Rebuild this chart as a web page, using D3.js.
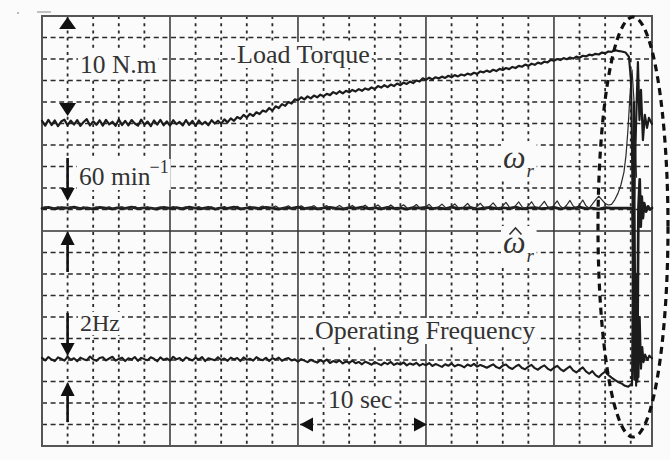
<!DOCTYPE html>
<html>
<head>
<meta charset="utf-8">
<script src="https://cdn.jsdelivr.net/npm/d3@7"></script>
<style>
  body { margin: 0; background: #fbfbfb; }
  svg { display: block; }
  text { font-family: "Liberation Serif", "Times New Roman", serif; fill: #333; }
</style>
</head>
<body>
<svg id="scope" width="670" height="460"></svg>
<script>
// screen: 10 s per major division, traces in minor divisions (0 = bottom, 20 = top)
const T_END = 47.66;
const DT = 0.25;      // sample step of torque / speed / frequency records
const DT_EST = 0.5;   // sample step of the estimated speed record

// load torque, one value every DT seconds (t = 0 .. 45 s)
const torqueDiv = [
  15.12, 14.90, 15.17, 14.93, 15.14, 14.88, 15.09, 15.18, 14.92, 15.13, 14.95, 15.16, 14.89, 15.07, 15.20, 14.91, 15.10, 14.94, 15.15, 14.90,
  15.17, 14.96, 15.08, 14.89, 15.19, 14.93, 15.12, 14.91, 15.16, 15.00, 14.90, 15.18, 14.94, 15.09, 14.88, 15.14, 14.95, 15.17, 14.92, 15.10,
  14.90, 15.15, 14.97, 15.07, 14.91, 15.16, 14.94, 15.12, 14.89, 15.14, 14.96, 15.08, 14.92, 15.15, 15.00,
  15.13, 14.99, 15.19, 15.05, 15.24, 15.12, 15.30, 15.22,
  15.40, 15.28, 15.45, 15.35, 15.52, 15.44, 15.60, 15.55,
  15.72, 15.60, 15.80, 15.72, 15.90, 15.82, 16.00, 15.93, 16.12, 16.08,
  16.22, 16.12, 16.26, 16.17, 16.30, 16.22, 16.34, 16.27, 16.38, 16.32, 16.46, 16.38,
  16.50, 16.40, 16.52, 16.45, 16.56, 16.49, 16.60, 16.52, 16.63, 16.57, 16.68, 16.61, 16.74, 16.67,
  16.78, 16.69, 16.81, 16.74, 16.86, 16.78, 16.90, 16.84, 16.95, 16.88, 17.00, 16.95, 17.10, 17.03,
  17.13, 17.05, 17.15, 17.09, 17.18, 17.12, 17.22, 17.15, 17.25, 17.19, 17.28, 17.23, 17.32, 17.27, 17.36, 17.31, 17.42,
  17.38, 17.46, 17.40, 17.50, 17.44, 17.54, 17.49, 17.58, 17.53, 17.63, 17.58, 17.68,
  17.64, 17.74, 17.68, 17.78, 17.73, 17.83, 17.78, 17.88, 17.84, 17.96, 17.92,
  18.00, 17.95, 18.04, 17.99, 18.07, 18.02, 18.11, 18.06, 18.15, 18.12, 18.20,
  18.17, 18.24, 18.21, 18.30, 18.27, 18.35, 18.33, 18.42, 18.38
];
// torque after the stall: [t, div]
const torqueTail = [
  [45.3, 18.35], [45.6, 18.30], [45.86, 18.10], [46.02, 17.0], [46.1, 13.77], [46.17, 10.05],
  [46.25, 11.44], [46.4, 14.7], [46.56, 17.86], [46.68, 15.16], [46.8, 16.56], [46.95, 14.23],
  [47.1, 15.4], [47.27, 14.8], [47.42, 15.26], [47.66, 14.98]
];

// actual rotor speed (thin trace), every DT seconds
const speedDiv = [
  11.08, 11.12, 11.07, 11.03, 11.08, 11.13, 11.06, 11.02, 11.09, 11.12, 11.06, 11.03, 11.08, 11.13, 11.07, 11.02, 11.08, 11.12, 11.06, 11.03,
  11.09, 11.13, 11.07, 11.02, 11.08, 11.12, 11.06, 11.03, 11.09, 11.14, 11.07, 11.02, 11.08, 11.13, 11.06, 11.03, 11.09, 11.12, 11.07, 11.02,
  11.08, 11.14, 11.07, 11.02, 11.09, 11.13, 11.06, 11.03, 11.08, 11.14, 11.07, 11.02, 11.09, 11.13, 11.06, 11.02, 11.08, 11.14, 11.07, 11.03,
  11.09, 11.15, 11.07, 11.02, 11.09, 11.15, 11.06, 11.02, 11.10, 11.16, 11.07, 11.02, 11.09, 11.16, 11.07, 11.02, 11.10, 11.17, 11.07, 11.02,
  11.10, 11.17, 11.08, 11.02, 11.10, 11.18, 11.07, 11.02, 11.11, 11.18, 11.08, 11.02, 11.10, 11.19, 11.08, 11.02, 11.11, 11.19, 11.07, 11.02,
  11.11, 11.20, 11.08, 11.02, 11.12, 11.21, 11.08, 11.02, 11.11, 11.21, 11.09, 11.02, 11.12, 11.22, 11.08, 11.02, 11.12, 11.23, 11.09, 11.02,
  11.13, 11.24, 11.09, 11.02, 11.13, 11.25, 11.10, 11.02, 11.14, 11.26, 11.10, 11.02, 11.14, 11.28, 11.11, 11.02, 11.15, 11.29, 11.11, 11.03,
  11.16, 11.31, 11.12, 11.03, 11.17, 11.33, 11.12, 11.03, 11.18, 11.35, 11.13, 11.03, 11.18, 11.36, 11.13, 11.04, 11.19, 11.38, 11.14, 11.04,
  11.20, 11.40, 11.15, 11.05, 11.21, 11.42, 11.16, 11.06, 11.22, 11.44, 11.17, 11.06, 11.25, 11.45, 11.62, 11.45, 11.28, 11.21, 11.24, 11.45, 11.75
];
const speedTail = [
  [45.23, 12.14], [45.47, 12.74], [45.63, 13.53], [45.78, 14.70], [45.94, 16.33],
  [46.1, 17.49], [46.25, 16.09], [46.38, 13.8], [46.45, 12.5]
];

// estimated rotor speed (thick trace), every DT_EST seconds
const speedEstDiv = [
  11.05, 11.10, 11.03, 11.09, 11.06, 11.11, 11.04, 11.08, 11.02, 11.10, 11.06, 11.03, 11.09, 11.05, 11.11, 11.04, 11.08, 11.06, 11.02, 11.10,
  11.05, 11.09, 11.03, 11.11, 11.06, 11.04, 11.10, 11.02, 11.08, 11.05, 11.11, 11.03, 11.07, 11.09, 11.04, 11.10, 11.06, 11.02, 11.08, 11.05,
  11.11, 11.04, 11.09, 11.03, 11.07, 11.10, 11.05, 11.02, 11.09, 11.06, 11.11, 11.04, 11.08, 11.03, 11.10, 11.05, 11.07, 11.02, 11.09, 11.06,
  11.10, 11.04, 11.08, 11.03, 11.11, 11.05, 11.07, 11.09, 11.02, 11.06, 11.10, 11.04, 11.08, 11.05, 11.11, 11.03, 11.07, 11.09, 11.04, 11.06,
  11.10, 11.03, 11.08, 11.05, 11.11, 11.04, 11.07, 11.02, 11.09, 11.06, 11.07
];
const speedEstTail = [
  [45.5, 11.06], [46.0, 11.07], [46.15, 11.05], [46.22, 5.0], [46.3, 3.1], [46.4, 8.0], [46.5, 3.0],
  [46.6, 11.07], [46.7, 12.4], [46.78, 10.2], [46.86, 11.6], [46.95, 10.6], [47.05, 11.3],
  [47.2, 10.9], [47.35, 11.15], [47.5, 11.0], [47.66, 11.07]
];

// inverter operating frequency, every DT seconds
const freqDiv = [
  4.10, 3.98, 4.14, 4.02, 3.95, 4.12, 4.06, 3.97, 4.15, 4.01, 4.08, 3.94, 4.11, 4.04, 3.99, 4.16, 4.03, 3.96, 4.09, 4.13,
  3.98, 4.07, 4.15, 3.97, 4.05, 4.11, 3.95, 4.08, 4.02, 4.14, 3.96, 4.10, 4.04, 3.99, 4.13, 4.06, 3.94, 4.12, 4.01, 4.07,
  3.97, 4.15, 4.03, 4.09, 3.96, 4.12, 4.05, 3.98, 4.11, 4.02, 4.14, 3.95, 4.08, 4.04, 3.99, 4.13, 4.00, 4.07, 3.96, 4.11,
  4.03, 4.09, 3.95, 4.12, 4.01, 4.06, 3.97, 4.13, 4.04, 3.99, 4.10, 3.95, 4.08, 4.02, 4.11, 3.96, 4.05, 4.09, 3.98, 4.03,
  3.92, 4.04, 3.97, 3.90, 4.01, 3.94, 3.88, 3.99, 3.92, 4.02, 3.86, 3.95, 3.89, 3.98, 3.84, 3.93, 3.87, 3.97, 3.85, 3.91,
  3.80, 3.92, 3.86, 3.78, 3.90, 3.83, 3.76, 3.88, 3.81, 3.91, 3.77, 3.85, 3.79, 3.89, 3.75, 3.84, 3.78, 3.87, 3.74, 3.82,
  3.76, 3.86, 3.72, 3.81, 3.75, 3.68, 3.80, 3.73, 3.84, 3.70, 3.78, 3.74, 3.66, 3.79, 3.72, 3.82, 3.69, 3.77, 3.71, 3.64,
  3.72, 3.80, 3.67, 3.61, 3.74, 3.79, 3.65, 3.58, 3.70, 3.78, 3.63, 3.57, 3.69, 3.77, 3.62, 3.55, 3.67, 3.75, 3.60, 3.52,
  3.64, 3.73, 3.58, 3.48, 3.60, 3.70, 3.52, 3.42, 3.55, 3.66, 3.47, 3.36, 3.48, 3.30, 3.20, 3.35, 3.46, 3.30, 3.18, 3.08, 2.98
];
const freqTail = [
  [45.3, 2.90], [45.55, 2.80], [45.8, 2.76], [46.0, 2.85], [46.1, 2.82], [46.18, 9.0], [46.25, 16.0],
  [46.33, 8.0], [46.42, 2.8], [46.5, 7.0], [46.6, 3.2], [46.7, 6.0], [46.8, 3.6], [46.9, 4.6],
  [47.0, 3.9], [47.12, 4.25], [47.3, 4.0], [47.45, 4.2], [47.66, 4.08]
];

const svg = d3.select("#scope");
const x = d3.scaleLinear().domain([0, T_END]).range([42, 652]);
const y = d3.scaleLinear().domain([0, 20]).range([446, 16]);
const ink = "#2a2a2a";

svg.append("rect").attr("width", 670).attr("height", 460).attr("fill", "#fbfbfb");

// ================= GRID =================
const grid = svg.append("g");
const vTimes = d3.range(2, T_END, 2).filter(t => t % 10 !== 0);
grid.selectAll(".vminor").data(vTimes).enter().append("line")
  .attr("x1", d => x(d)).attr("x2", d => x(d))
  .attr("y1", y(20)).attr("y2", y(0))
  .attr("stroke", ink).attr("stroke-width", 1.8)
  .attr("stroke-dasharray", "3,4.2");

const hDivs = d3.range(1, 20).filter(d => d !== 10);
grid.selectAll(".hminor").data(hDivs).enter().append("line")
  .attr("x1", x(0)).attr("x2", x(T_END))
  .attr("y1", d => y(d)).attr("y2", d => y(d))
  .attr("stroke", ink).attr("stroke-width", 1.6)
  .attr("stroke-dasharray", "5,3.6");

grid.selectAll(".vmajor").data([10, 20, 30, 40]).enter().append("line")
  .attr("x1", d => x(d)).attr("x2", d => x(d))
  .attr("y1", y(20)).attr("y2", y(0))
  .attr("stroke", "#333").attr("stroke-width", 1.5);

grid.append("line")
  .attr("x1", x(0)).attr("x2", x(T_END))
  .attr("y1", y(10)).attr("y2", y(10))
  .attr("stroke", "#333").attr("stroke-width", 1.5);

grid.append("rect")
  .attr("x", x(0)).attr("y", y(20))
  .attr("width", x(T_END) - x(0)).attr("height", y(0) - y(20))
  .attr("fill", "none").attr("stroke", "#555").attr("stroke-width", 2);

// small marks above the screen
svg.append("line").attr("x1", 37).attr("x2", 51).attr("y1", 12).attr("y2", 12)
  .attr("stroke", "#999").attr("stroke-width", 1.2);
svg.append("circle").attr("cx", 18).attr("cy", 13).attr("r", 0.9).attr("fill", "#999");

// ================= LABELS (white box behind) =================
function label(px, py, size, parts, italic) {
  const g = svg.append("g");
  const t = g.append("text").attr("x", px).attr("y", py)
    .attr("font-size", size).attr("font-style", italic ? "italic" : null);
  parts.forEach(p => {
    const ts = t.append("tspan").text(p.s);
    if (p.size) ts.attr("font-size", p.size);
    if (p.dx != null) ts.attr("dx", p.dx);
    if (p.dy != null) ts.attr("dy", p.dy);
  });
  const b = t.node().getBBox();
  g.insert("rect", "text")
    .attr("x", b.x - 2).attr("y", b.y + 2)
    .attr("width", b.width + 4).attr("height", b.height - 3)
    .attr("fill", "#fbfbfb");
  return g;
}

label(80, 73, 25.5, [{ s: "10 N.m" }]);
label(237, 63, 26, [{ s: "Load Torque" }]);
label(79, 185, 25.5, [{ s: "60 min" }, { s: "\u22121", size: 18, dx: -1, dy: -12 }]);
label(503, 168, 32, [{ s: "\u03c9" }, { s: "r", size: 19, dx: 1, dy: 9 }], true);
const est = label(503, 253, 32, [{ s: "\u03c9" }, { s: "r", size: 19, dx: 1, dy: 9 }], true);
// hat over the estimated-speed omega
est.append("path")
  .attr("d", "M509.5,234.5L515.5,228L521.5,234.5")
  .attr("fill", "none").attr("stroke", "#333").attr("stroke-width", 1.6)
  .attr("stroke-linejoin", "miter");
label(80, 331, 24, [{ s: "2Hz" }]);
label(315, 339, 26, [{ s: "Operating Frequency" }]);
label(328, 408, 25.5, [{ s: "10 sec" }]);

// ================= TRACES =================
const line = d3.line().x(d => x(d[0])).y(d => y(d[1]));
const series = (vals, step, tail) => vals.map((v, i) => [i * step, v]).concat(tail);

const traces = svg.append("g").attr("fill", "none")
  .attr("stroke-linejoin", "round").attr("stroke-linecap", "round");

traces.append("path").datum(series(speedEstDiv, DT_EST, speedEstTail))
  .attr("d", line).attr("stroke", "#1c1c1c").attr("stroke-width", 2.7);
traces.append("path").datum(series(speedDiv, DT, speedTail))
  .attr("d", line).attr("stroke", "#2a2a2a").attr("stroke-width", 1.2);
traces.append("path").datum(series(torqueDiv, DT, torqueTail))
  .attr("d", line).attr("stroke", "#1c1c1c").attr("stroke-width", 2.2);
traces.append("path").datum(series(freqDiv, DT, freqTail))
  .attr("d", line).attr("stroke", "#1c1c1c").attr("stroke-width", 2.1);

// ================= SCALE ARROWS =================
const arrows = svg.append("g").attr("fill", "#111").attr("stroke", "#111");
function head(px, tipY, dir, len, half) {
  // dir = 1 points down, -1 points up
  const baseY = tipY - dir * len;
  arrows.append("path").attr("stroke", "none")
    .attr("d", `M${px},${tipY}L${px - half},${baseY}L${px + half},${baseY}Z`);
}
function hhead(tipX, py, dir, len, half) {
  const baseX = tipX - dir * len;
  arrows.append("path").attr("stroke", "none")
    .attr("d", `M${tipX},${py}L${baseX},${py - half}L${baseX},${py + half}Z`);
}
function shaft(px, y1, y2) {
  arrows.append("line").attr("x1", px).attr("x2", px).attr("y1", y1).attr("y2", y2)
    .attr("stroke-width", 2.6);
}
const ax = x(2);
head(ax, 17, -1, 12, 8.5);
head(ax, 116, 1, 13, 8.5);
shaft(ax, 158, 190); head(ax, 201, 1, 13, 7);
head(ax, 231, -1, 14, 7); shaft(ax, 243, 272);
shaft(ax, 313, 344); head(ax, 356, 1, 13, 7);
head(ax, 382, -1, 14, 7); shaft(ax, 394, 422);
hhead(x(20) + 2, y(1), -1, 13, 7);
hhead(x(30) + 1, y(1), 1, 13, 7);

// ================= STALL REGION =================
svg.append("ellipse")
  .attr("cx", 633).attr("cy", 227).attr("rx", 35).attr("ry", 210)
  .attr("fill", "none").attr("stroke", "#111")
  .attr("stroke-width", 3.2).attr("stroke-dasharray", "7,5");
</script>
</body>
</html>
